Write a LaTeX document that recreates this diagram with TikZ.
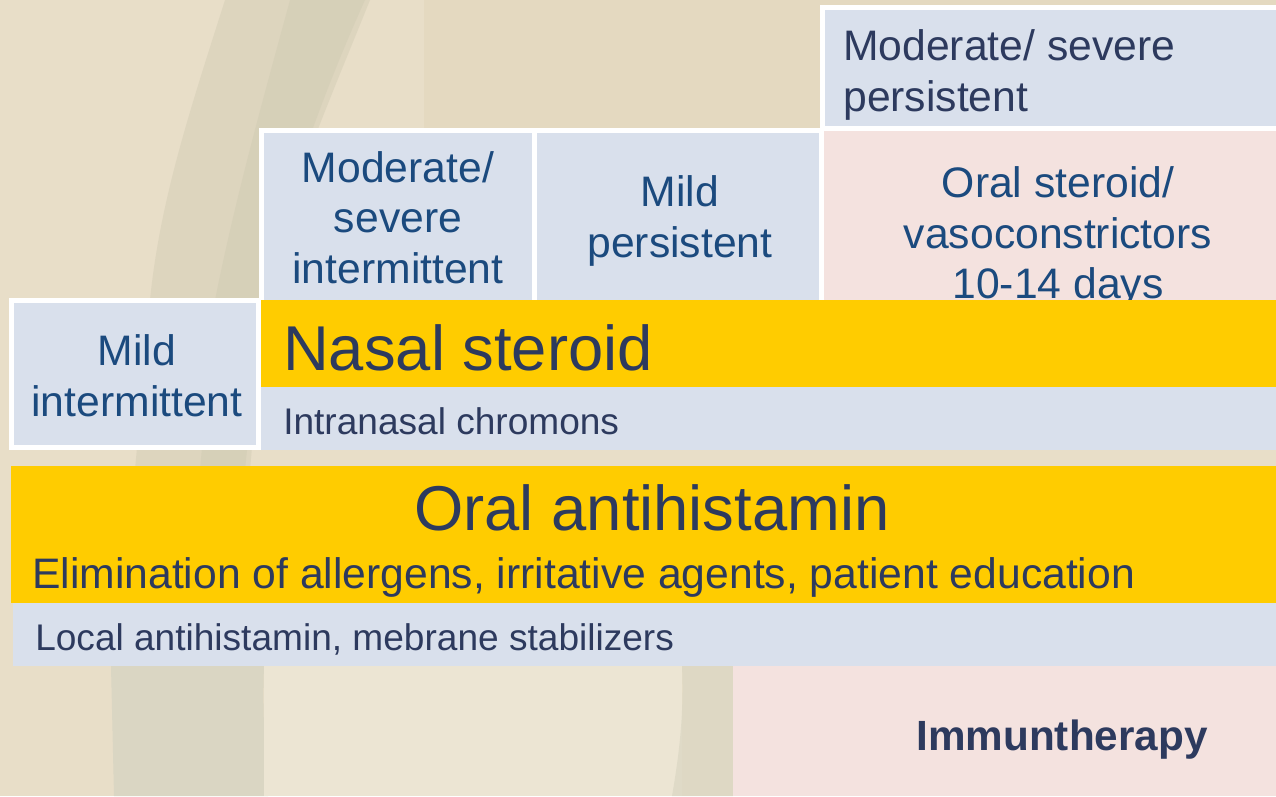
\documentclass[tikz,border=0pt]{standalone}
\usepackage{fontspec}
\setmainfont{Liberation Sans}
\definecolor{bgbeige}{HTML}{E8DEC8}
\definecolor{bgtan}{HTML}{E4D9C0}
\definecolor{bgdark}{HTML}{B7B69E}
\definecolor{bggrey}{HTML}{DAD6C3}
\definecolor{bglight}{HTML}{ECE5D3}
\definecolor{boxblue}{HTML}{D9E0EC}
\definecolor{boxpink}{HTML}{F4E2DF}
\definecolor{gold}{HTML}{FFCC00}
\definecolor{txtblue}{HTML}{1B4A7E}
\definecolor{txtnavy}{HTML}{2D3A5E}
\tikzset{
  framebox/.style={draw=white, line width=3.75pt, fill=boxblue},
  bluefill/.style={fill=boxblue},
  pinkfill/.style={fill=boxpink},
  goldfill/.style={fill=gold},
  lbl/.style={inner sep=0pt, font=\fontsize{32}{38}\selectfont, text=txtblue, align=center},
  biglbl/.style={inner sep=0pt, font=\fontsize{47.5}{56}\selectfont, text=txtnavy},
  midlbl/.style={inner sep=0pt, font=\fontsize{32}{38}\selectfont, text=txtnavy},
  smalllbl/.style={inner sep=0pt, font=\fontsize{27.8}{33}\selectfont, text=txtnavy},
}
\begin{document}
\begin{tikzpicture}[x=0.75pt,y=-0.75pt]
\useasboundingbox (0,0) rectangle (1276,796);
% background
\fill[bgbeige] (0,0) rectangle (1276,796);
\fill[bgtan] (424,0) rectangle (1276,130);
\fill[bgdark, opacity=0.22] (225,0) .. controls (190,110) and (160,200) .. (150,300) -- (135,470) -- (250,470) -- (265,300) .. controls (285,200) and (330,100) .. (370,0) -- cycle;
\fill[bgdark, opacity=0.16] (290,0) .. controls (260,110) and (235,200) .. (215,300) -- (200,470) -- (245,470) -- (262,300) .. controls (285,200) and (320,100) .. (365,0) -- cycle;
\fill[bggrey] (111,666) -- (264,666) .. controls (262,720) and (266,760) .. (268,796) -- (114,796) -- cycle;
\fill[bglight] (264,666) rectangle (682,796);
\fill[bggrey, opacity=0.7] (682,666) -- (733,666) -- (733,796) -- (672,796) .. controls (680,750) and (684,710) .. (682,666) -- cycle;
% boxes
\path[framebox] (11.5,300.5) rectangle (258.5,447.5);
\path[framebox] (261.5,130.5) rectangle (534,302);
\path[framebox] (534,130.5) rectangle (821.5,302);
\path[framebox] (822.5,7.5) rectangle (1282,128.5);
\path[pinkfill] (824,131) rectangle (1276,300);
% texts in boxes
\node[lbl] (tMI) at (137,375.5) {Mild\\intermittent};
\node[lbl] (tMSI) at (398,217.5) {Moderate/\\severe\\intermittent};
\node[lbl] (tMP) at (680,221) {Mild\\persistent};
\node[lbl, text=txtnavy, align=left, anchor=west] (tMSP) at (843,75) {Moderate/ severe\\persistent};
\node[lbl] (tOS) at (1058,237) {Oral steroid/\\vasoconstrictors\\10-14 days};
% bands
\path[goldfill] (261,300) rectangle (1276,387);
\path[bluefill] (261,387) rectangle (1276,450);
\path[goldfill] (11,466) rectangle (1276,603);
\path[bluefill] (13,603) rectangle (1276,666);
\path[pinkfill] (733,666) rectangle (1276,796);
% band texts
\node[biglbl, anchor=base west] (tNS) at (283,370) {Nasal steroid};
\node[smalllbl, anchor=base west] (tIC) at (283,434) {Intranasal chromons};
\node[biglbl, anchor=base] (tOA) at (652,530) {Oral antihistamin};
\node[midlbl, anchor=base west] (tEl) at (32,588) {Elimination of allergens, irritative agents, patient education};
\node[smalllbl, anchor=base west] (tLA) at (35,650) {Local antihistamin, mebrane stabilizers};
\node[midlbl, font=\fontsize{31.7}{38}\selectfont\bfseries, anchor=base] (tIm) at (1062,750) {Immuntherapy};
\end{tikzpicture}
\end{document}
